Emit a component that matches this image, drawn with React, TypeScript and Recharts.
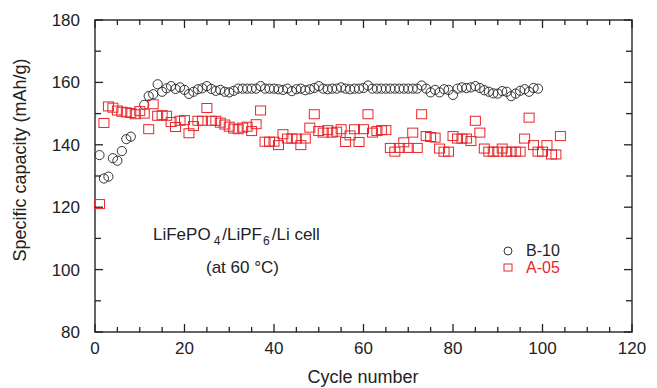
import { ScatterChart, Scatter, XAxis, YAxis, ReferenceArea } from 'recharts'

const b10Cycles = [
  1, 2, 3, 4, 5, 6, 7, 8, 11, 12, 13, 14, 15, 16, 17, 18, 19, 20, 21, 22, 23, 24, 25, 26, 27, 28, 29, 30, 31, 32, 33, 34, 35,
  36, 37, 38, 39, 40, 41, 42, 43, 44, 45, 46, 47, 48, 49, 50, 51, 52, 53, 54, 55, 56, 57, 58, 59, 60, 61, 62, 63, 64, 65, 66,
  67, 68, 69, 70, 71, 72, 73, 74, 75, 76, 77, 78, 79, 80, 81, 82, 83, 84, 85, 86, 87, 88, 89, 90, 91, 92, 93, 94, 95, 96, 97,
  98, 99,
]
const b10Capacity = [
  136.7, 129.2, 129.8, 135.7, 134.9, 138, 141.8, 142.6, 152.8, 155.6, 156.2, 159.4, 157, 158.1, 158.8, 157.9, 158.4, 157.6,
  156.3, 157, 157.8, 158.1, 158.8, 157.9, 157.3, 157.6, 157, 156.8, 157.3, 158, 158, 158, 158, 158, 158.8, 158, 158, 158, 157.8,
  157.6, 158, 157.2, 157.8, 158, 157.5, 157.8, 158.2, 158.8, 158, 157.8, 158, 158, 158.4, 158, 157.8, 158, 158, 158.2, 159, 158,
  158, 158, 158, 158, 158, 158, 158, 158, 158, 158, 159, 158, 156.8, 157.6, 156.8, 157.8, 157.6, 156, 158, 158.4, 158.2, 158.4,
  158.8, 158.2, 157.5, 157, 156.5, 156.4, 157.2, 157, 155.6, 156.4, 157.3, 157.8, 157, 158.2, 158,
]

const a05Cycles = Array.from({ length: 104 }, (_, i) => i + 1)
const a05Capacity = [
  121, 147, 152.3, 151.9, 151, 150.6, 150.4, 150.2, 149.8, 150.8, 150, 145, 153, 149.3, 149.5, 149.3, 147.3, 145.7, 147.7,
  147.9, 143.7, 146, 147.7, 147.7, 151.8, 147.7, 147.7, 147.1, 146.5, 145.8, 145.2, 145, 145.5, 145.8, 144.4, 146.6, 151, 141,
  141, 141, 139.9, 143.4, 142, 142, 142, 139.9, 142, 145.5, 149.8, 144.4, 143.9, 144.7, 143.9, 144.2, 145, 140.9, 143, 145,
  140.9, 145, 149.8, 143.9, 144.4, 144.7, 144.7, 139, 137.8, 139, 140.8, 139, 143.9, 139, 149.8, 142.8, 142.5, 142.3, 138.8,
  137.8, 137.8, 142.8, 142, 142, 142, 141.2, 147.7, 143.9, 138.8, 137.8, 137.8, 137.8, 138.8, 137.8, 137.8, 137.8, 137.8, 142,
  148.7, 139.9, 137.8, 137.8, 139.9, 136.9, 136.9, 142.8,
]

const xTicks = [0, 5, 10, 15, 20, 25, 30, 35, 40, 45, 50, 55, 60, 65, 70, 75, 80, 85, 90, 95, 100, 105, 110, 115, 120]
const yTicks = [80, 90, 100, 110, 120, 130, 140, 150, 160, 170, 180]

const b10 = b10Cycles.map((c, i) => ({ cycle: c, cap: b10Capacity[i] }))
const a05 = a05Cycles.map((c, i) => ({ cycle: c, cap: a05Capacity[i] }))

const font = '"Liberation Sans", Arial, sans-serif'
const ink = '#222'
const red = '#e8262a'
const plotTop = 20
const plotRight = 632

function Circle(props: any) {
  return <circle cx={props.cx} cy={props.cy} r={4.6} fill="none" stroke="#333" strokeWidth={1} />
}

function Square(props: any) {
  return <rect x={props.cx - 5} y={props.cy - 4.5} width={10} height={9} fill="none" stroke={red} strokeWidth={1} />
}

function XTick(props: any) {
  const { x, y, payload } = props
  const axisY = y - 10
  const major = payload.value % 20 === 0
  const len = major ? 8 : 5
  return (
    <g>
      <line x1={x} x2={x} y1={axisY} y2={axisY - len} stroke={ink} strokeWidth={1.3} />
      <line x1={x} x2={x} y1={plotTop} y2={plotTop + len} stroke={ink} strokeWidth={1.3} />
      {major && (
        <text x={x} y={y} dy={12} textAnchor="middle" fontSize={17} fill={ink} fontFamily={font}>
          {payload.value}
        </text>
      )}
    </g>
  )
}

function YTick(props: any) {
  const { x, y, payload } = props
  const axisX = x + 15
  const major = payload.value % 20 === 0
  const len = major ? 8 : 6
  return (
    <g>
      <line x1={axisX} x2={axisX + len} y1={y} y2={y} stroke={ink} strokeWidth={1.3} />
      <line x1={plotRight - len} x2={plotRight} y1={y} y2={y} stroke={ink} strokeWidth={1.3} />
      {major && (
        <text x={x} y={y} dy={6} textAnchor="end" fontSize={17} fill={ink} fontFamily={font}>
          {payload.value}
        </text>
      )}
    </g>
  )
}

function LegendBox() {
  return (
    <div style={{ position: 'absolute', left: 501, top: 242, fontFamily: font, fontSize: 16, lineHeight: '17px' }}>
      <div style={{ display: 'flex', alignItems: 'center', color: ink }}>
        <svg width={25} height={12}>
          <circle cx={7} cy={6} r={4} fill="none" stroke="#333" strokeWidth={1} />
        </svg>
        <span>B-10</span>
      </div>
      <div style={{ display: 'flex', alignItems: 'center', color: red }}>
        <svg width={25} height={12}>
          <rect x={3} y={2} width={8} height={7} fill="none" stroke={red} strokeWidth={1} />
        </svg>
        <span>A-05</span>
      </div>
    </div>
  )
}

export default function App() {
  return (
    <div style={{ position: 'fixed', left: 0, top: 0, width: 657, height: 388, background: '#fff' }}>
      <ScatterChart width={657} height={388} margin={{ top: 20, right: 25, left: 0, bottom: 0 }}>
        <XAxis
          type="number"
          dataKey="cycle"
          domain={[0, 120]}
          ticks={xTicks}
          interval={0}
          height={56}
          tickSize={0}
          tickMargin={10}
          tickLine={false}
          axisLine={false}
          tick={<XTick />}
        />
        <YAxis
          type="number"
          dataKey="cap"
          domain={[80, 180]}
          ticks={yTicks}
          interval={0}
          width={95}
          tickSize={0}
          tickMargin={15}
          tickLine={false}
          axisLine={false}
          tick={<YTick />}
        />
        <ReferenceArea x1={0} x2={120} y1={80} y2={180} fill="none" stroke="#333" strokeWidth={1.5} fillOpacity={0} />
        <Scatter name="B-10" data={b10} shape={<Circle />} isAnimationActive={false} />
        <Scatter name="A-05" data={a05} shape={<Square />} isAnimationActive={false} />
        <text x={153} y={240} fontSize={17} fill={ink} fontFamily={font}>
          LiFePO<tspan dx={3} dy={5} fontSize={12}>4</tspan>
          <tspan dx={2} dy={-5}>/LiPF</tspan>
          <tspan dx={1} dy={5} fontSize={12}>6</tspan>
          <tspan dx={2} dy={-5}>/Li cell</tspan>
        </text>
        <text x={206} y={273} fontSize={17} fill={ink} fontFamily={font}>
          (at 60 °C)
        </text>
        <text
          x={0}
          y={0}
          transform="translate(26 160) rotate(-90)"
          textAnchor="middle"
          fontSize={18}
          fill={ink}
          fontFamily={font}
        >
          Specific capacity (mAh/g)
        </text>
        <text x={363} y={383} textAnchor="middle" fontSize={18} fill={ink} fontFamily={font}>
          Cycle number
        </text>
      </ScatterChart>
      <LegendBox />
    </div>
  )
}
